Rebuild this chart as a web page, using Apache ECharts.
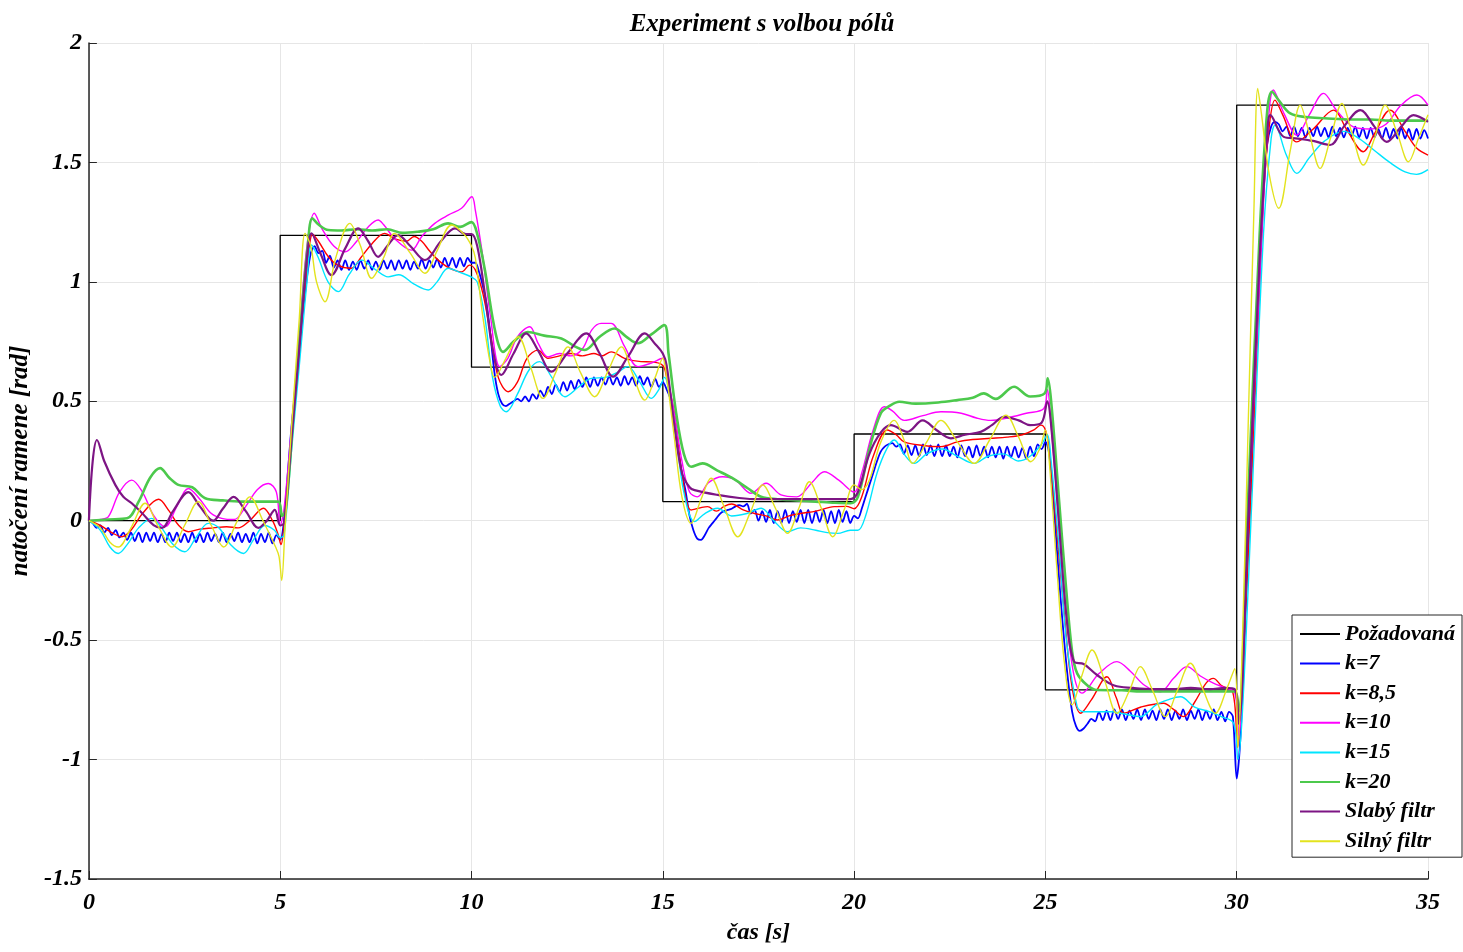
<!DOCTYPE html>
<html>
<head>
<meta charset="utf-8">
<script src="https://cdn.jsdelivr.net/npm/echarts@6/dist/echarts.min.js"></script>
<style>
html,body{margin:0;padding:0;background:#fff;}
#chart{width:1463px;height:952px;}
</style>
</head>
<body>
<div id="chart"></div>
<script>
// ---- data ----
const seriesNames = ['Požadovaná','k=7','k=8,5','k=10','k=15','k=20','Slabý filtr','Silný filtr'];
const xTicks = [0,5,10,15,20,25,30,35];

// setpoint (reference) levels, held from each time until the next
const refTimes  = [0, 5, 10, 15, 20, 25, 30, 35];
const refLevels = [0, 1.195, 0.643, 0.08, 0.363, -0.708, 1.74, 1.74];

// k=7 sampled every 0.1 s (rows = 1 s)
const k7Step = 0.1;
const k7Vals = [
0,-0.01,-0.03,-0.02,-0.05,-0.03,-0.06,-0.04,-0.07,-0.05,
-0.08,-0.05,-0.085,-0.05,-0.09,-0.05,-0.085,-0.05,-0.09,-0.055,
-0.09,-0.05,-0.085,-0.05,-0.09,-0.055,-0.09,-0.05,-0.09,-0.055,
-0.09,-0.05,-0.085,-0.055,-0.09,-0.05,-0.09,-0.055,-0.085,-0.05,
-0.09,-0.055,-0.09,-0.05,-0.095,-0.055,-0.09,-0.05,-0.095,-0.06,
-0.08,0.0,0.2,0.4,0.55,0.72,0.88,1.02,1.12,1.15,
1.12,1.13,1.08,1.11,1.06,1.09,1.05,1.09,1.05,1.085,
1.05,1.09,1.055,1.09,1.05,1.085,1.05,1.09,1.055,1.09,
1.05,1.09,1.055,1.09,1.05,1.085,1.055,1.095,1.055,1.09,
1.06,1.095,1.06,1.1,1.065,1.1,1.06,1.1,1.065,1.1,
1.08,1.08,1.04,0.98,0.9,0.77,0.62,0.53,0.49,0.48,
0.49,0.5,0.51,0.5,0.52,0.5,0.53,0.51,0.545,0.52,
0.56,0.53,0.57,0.54,0.58,0.545,0.585,0.55,0.59,0.56,
0.6,0.56,0.6,0.565,0.6,0.57,0.605,0.57,0.6,0.565,
0.605,0.57,0.6,0.565,0.605,0.57,0.6,0.56,0.595,0.56,
0.58,0.55,0.51,0.4,0.3,0.2,0.12,0.02,-0.04,-0.075,
-0.08,-0.06,-0.03,-0.01,0.01,0.03,0.04,0.045,0.05,0.06,
0.065,0.06,0.07,0.03,0.045,0.0,0.04,-0.005,0.045,-0.01,
0.04,-0.01,0.045,-0.01,0.04,-0.005,0.045,-0.01,0.045,-0.01,
0.04,-0.005,0.045,-0.01,0.04,-0.01,0.045,-0.005,0.04,-0.01,
0.02,0.01,0.05,0.1,0.15,0.2,0.25,0.29,0.31,0.32,
0.325,0.31,0.32,0.28,0.315,0.275,0.315,0.27,0.32,0.275,
0.315,0.27,0.32,0.27,0.315,0.27,0.31,0.265,0.315,0.27,
0.31,0.265,0.315,0.27,0.31,0.265,0.31,0.265,0.31,0.26,
0.31,0.265,0.31,0.265,0.305,0.26,0.31,0.27,0.32,0.3,
0.33,0.28,0.1,-0.12,-0.33,-0.52,-0.68,-0.8,-0.86,-0.88,
-0.87,-0.85,-0.83,-0.84,-0.8,-0.835,-0.795,-0.835,-0.79,-0.83,
-0.79,-0.835,-0.795,-0.83,-0.79,-0.835,-0.79,-0.83,-0.795,-0.835,
-0.79,-0.83,-0.79,-0.835,-0.795,-0.83,-0.79,-0.835,-0.795,-0.83,
-0.79,-0.835,-0.795,-0.83,-0.79,-0.835,-0.8,-0.84,-0.8,-0.82,
-1.08,-0.9,-0.5,-0.1,0.3,0.7,1.1,1.4,1.58,1.65,
1.67,1.66,1.63,1.65,1.61,1.65,1.61,1.645,1.605,1.645,
1.61,1.65,1.61,1.645,1.605,1.65,1.61,1.645,1.605,1.645,
1.61,1.65,1.605,1.645,1.6,1.645,1.605,1.64,1.6,1.645,
1.6,1.64,1.6,1.645,1.6,1.64,1.595,1.64,1.6,1.635,
1.6
];

// [time s, angle rad]
const k85 = [[0,0],[0.3,-0.02],[0.6,-0.05],[0.86,-0.067],[1.1,-0.04],[1.4,0.03],[1.82,0.09],[2.1,0.04],[2.35,-0.02],[2.6,-0.046],[2.9,-0.035],[3.25,-0.03],[3.6,-0.025],[3.9,-0.03],[4.2,0.0],[4.56,0.052],[4.8,0.0],[4.95,-0.06],[5.02,-0.1],[5.1,-0.02],[5.3,0.35],[5.5,0.72],[5.7,1.05],[5.85,1.2],[6.0,1.17],[6.26,1.105],[6.5,1.07],[6.86,1.057],[7.1,1.1],[7.4,1.16],[7.73,1.203],[8.0,1.18],[8.3,1.17],[8.5,1.19],[8.7,1.17],[8.9,1.13],[9.13,1.091],[9.4,1.06],[9.74,1.042],[9.95,1.07],[10.1,1.05],[10.3,0.95],[10.5,0.78],[10.7,0.6],[10.96,0.54],[11.2,0.58],[11.45,0.68],[11.74,0.714],[12.0,0.68],[12.3,0.69],[12.6,0.7],[12.9,0.69],[13.2,0.7],[13.4,0.69],[13.65,0.707],[14.0,0.68],[14.43,0.666],[14.7,0.665],[15.0,0.65],[15.1,0.6],[15.3,0.45],[15.5,0.2],[15.74,0.045],[16.0,0.055],[16.17,0.059],[16.4,0.04],[16.6,0.06],[16.8,0.07],[17.1,0.045],[17.4,0.03],[17.7,0.02],[18.0,0.003],[18.3,0.02],[18.6,0.03],[19.0,0.04],[19.48,0.059],[19.8,0.06],[20.0,0.05],[20.2,0.1],[20.5,0.27],[20.87,0.38],[21.1,0.36],[21.31,0.33],[21.8,0.315],[22.27,0.31],[22.7,0.33],[23.1,0.34],[23.57,0.345],[24.0,0.35],[24.4,0.36],[24.7,0.38],[24.88,0.40],[25.0,0.38],[25.1,0.3],[25.3,-0.05],[25.5,-0.4],[25.7,-0.7],[25.92,-0.806],[26.2,-0.75],[26.61,-0.653],[26.85,-0.74],[27.05,-0.806],[27.5,-0.78],[28.09,-0.764],[28.35,-0.79],[28.61,-0.82],[28.9,-0.76],[29.2,-0.68],[29.39,-0.66],[29.6,-0.69],[29.9,-0.72],[30.02,-0.95],[30.1,-0.8],[30.4,0.2],[30.7,1.35],[30.85,1.65],[31.0,1.761],[31.2,1.7],[31.57,1.586],[32.0,1.64],[32.53,1.719],[32.9,1.63],[33.31,1.545],[33.6,1.62],[34.01,1.719],[34.4,1.63],[34.7,1.56],[35,1.531]];

const k10 = [[0,0],[0.3,0.005],[0.51,0.017],[0.8,0.12],[1.12,0.17],[1.4,0.12],[1.7,0.02],[1.99,-0.025],[2.3,0.06],[2.6,0.135],[2.9,0.09],[3.2,0.03],[3.47,0.01],[3.8,0.005],[4.1,0.06],[4.4,0.13],[4.69,0.156],[4.9,0.12],[5.0,-0.02],[5.1,0.05],[5.3,0.4],[5.5,0.78],[5.7,1.15],[5.89,1.287],[6.1,1.22],[6.4,1.15],[6.7,1.126],[7.0,1.17],[7.3,1.23],[7.56,1.259],[7.7,1.24],[8.0,1.18],[8.43,1.133],[8.7,1.19],[9.04,1.245],[9.4,1.28],[9.74,1.308],[10.01,1.356],[10.1,1.3],[10.3,1.1],[10.5,0.85],[10.74,0.645],[10.95,0.68],[11.2,0.77],[11.52,0.812],[11.75,0.74],[12.0,0.686],[12.3,0.7],[12.6,0.69],[12.9,0.72],[13.15,0.8],[13.39,0.826],[13.65,0.826],[14.0,0.73],[14.35,0.645],[14.7,0.66],[15.0,0.68],[15.1,0.62],[15.3,0.45],[15.5,0.25],[15.7,0.12],[15.9,0.1],[16.2,0.16],[16.56,0.184],[16.9,0.17],[17.31,0.115],[17.7,0.157],[18.09,0.108],[18.5,0.1],[18.9,0.16],[19.22,0.205],[19.6,0.17],[20.0,0.12],[20.2,0.2],[20.5,0.38],[20.79,0.477],[21.0,0.46],[21.31,0.42],[21.8,0.44],[22.27,0.456],[22.8,0.45],[23.2,0.43],[23.57,0.42],[24.0,0.43],[24.5,0.45],[24.96,0.47],[25.05,0.55],[25.15,0.4],[25.35,0.0],[25.55,-0.4],[25.75,-0.65],[25.96,-0.722],[26.4,-0.64],[26.87,-0.59],[27.22,-0.63],[27.6,-0.69],[28.0,-0.716],[28.35,-0.66],[28.7,-0.611],[29.05,-0.65],[29.39,-0.68],[29.7,-0.7],[29.95,-0.72],[30.05,-0.9],[30.3,0.0],[30.6,1.0],[30.8,1.6],[30.96,1.803],[31.25,1.7],[31.57,1.614],[31.9,1.7],[32.27,1.789],[32.6,1.72],[33.05,1.649],[33.5,1.64],[33.9,1.66],[34.3,1.74],[34.71,1.782],[35,1.74]];

const k15 = [[0,0],[0.3,-0.04],[0.55,-0.11],[0.77,-0.137],[1.0,-0.1],[1.3,-0.03],[1.64,0.01],[1.9,-0.03],[2.2,-0.1],[2.51,-0.13],[2.8,-0.07],[3.12,-0.011],[3.4,-0.03],[3.7,-0.1],[4.04,-0.137],[4.3,-0.08],[4.6,-0.02],[4.85,-0.04],[5.0,-0.07],[5.1,-0.06],[5.3,0.3],[5.5,0.65],[5.7,1.0],[5.82,1.154],[6.0,1.1],[6.25,1.0],[6.52,0.959],[6.8,1.03],[7.13,1.091],[7.5,1.05],[7.82,1.021],[8.1,1.03],[8.5,0.99],[8.87,0.966],[9.1,1.0],[9.39,1.057],[9.7,1.04],[10.0,1.02],[10.15,1.0],[10.35,0.85],[10.55,0.6],[10.75,0.48],[10.91,0.456],[11.2,0.53],[11.5,0.63],[11.78,0.666],[12.1,0.6],[12.44,0.519],[12.8,0.56],[13.13,0.596],[13.5,0.6],[13.8,0.62],[14.09,0.645],[14.4,0.58],[14.7,0.512],[14.9,0.55],[15.05,0.6],[15.15,0.55],[15.35,0.35],[15.55,0.12],[15.83,-0.004],[16.1,0.03],[16.43,0.052],[16.8,0.02],[17.2,0.03],[17.57,0.052],[17.9,0.0],[18.26,-0.046],[18.6,-0.03],[19.0,-0.04],[19.3,-0.05],[19.57,-0.053],[19.9,-0.04],[20.1,-0.04],[20.3,0.02],[20.6,0.2],[20.85,0.3],[21.05,0.338],[21.3,0.28],[21.57,0.24],[21.9,0.28],[22.3,0.3],[22.7,0.27],[23.14,0.24],[23.5,0.27],[23.9,0.28],[24.3,0.25],[24.6,0.27],[24.9,0.32],[25.05,0.36],[25.15,0.25],[25.35,-0.1],[25.55,-0.5],[25.83,-0.778],[26.0,-0.8],[26.3,-0.8],[26.7,-0.8],[27.1,-0.81],[27.48,-0.82],[27.9,-0.77],[28.2,-0.75],[28.53,-0.737],[28.9,-0.78],[29.3,-0.8],[29.6,-0.82],[29.92,-0.848],[30.03,-1.0],[30.15,-0.8],[30.4,0.1],[30.7,1.2],[30.9,1.6],[31.0,1.656],[31.3,1.53],[31.57,1.454],[31.9,1.52],[32.3,1.59],[32.8,1.63],[33.2,1.6],[33.6,1.55],[34.0,1.5],[34.4,1.46],[34.7,1.45],[35,1.47]];

const k20 = [[0,0],[0.5,0.005],[1.0,0.01],[1.3,0.08],[1.6,0.18],[1.86,0.22],[2.1,0.18],[2.34,0.15],[2.7,0.14],[3.04,0.094],[3.5,0.085],[4.0,0.08],[4.5,0.08],[4.95,0.08],[5.05,0.02],[5.15,0.05],[5.35,0.45],[5.55,0.85],[5.72,1.15],[5.84,1.266],[6.0,1.24],[6.26,1.217],[6.6,1.215],[7.0,1.22],[7.4,1.215],[7.8,1.22],[8.2,1.205],[8.6,1.21],[9.0,1.22],[9.39,1.245],[9.7,1.23],[10.0,1.25],[10.15,1.2],[10.35,1.05],[10.55,0.85],[10.7,0.74],[10.82,0.707],[11.1,0.75],[11.47,0.79],[11.9,0.775],[12.35,0.763],[12.7,0.73],[12.96,0.715],[13.35,0.77],[13.74,0.805],[14.05,0.77],[14.35,0.743],[14.7,0.78],[15.04,0.819],[15.15,0.7],[15.35,0.45],[15.55,0.28],[15.74,0.226],[16.04,0.24],[16.43,0.21],[16.8,0.18],[17.22,0.136],[17.57,0.10],[18.0,0.09],[18.5,0.085],[19.0,0.08],[19.5,0.075],[19.91,0.073],[20.1,0.1],[20.4,0.3],[20.7,0.45],[20.96,0.484],[21.18,0.498],[21.6,0.49],[22.2,0.495],[22.7,0.505],[23.1,0.515],[23.39,0.533],[23.7,0.51],[24.18,0.561],[24.6,0.52],[24.98,0.533],[25.06,0.596],[25.15,0.5],[25.35,0.1],[25.55,-0.3],[25.7,-0.55],[25.83,-0.639],[26.1,-0.69],[26.35,-0.709],[27.0,-0.71],[27.5,-0.715],[28.0,-0.715],[28.5,-0.715],[29.0,-0.715],[29.5,-0.715],[29.95,-0.715],[30.05,-0.8],[30.3,0.1],[30.6,1.2],[30.8,1.72],[30.92,1.796],[31.1,1.76],[31.4,1.705],[31.8,1.69],[32.3,1.685],[33.0,1.68],[33.5,1.68],[34.0,1.675],[34.5,1.675],[35,1.675]];

const weakFilter = [[0,0],[0.1,0.25],[0.21,0.338],[0.4,0.25],[0.69,0.15],[0.9,0.1],[1.12,0.073],[1.4,0.03],[1.69,-0.018],[1.91,-0.03],[2.2,0.04],[2.6,0.12],[2.9,0.06],[3.25,0.0],[3.5,0.05],[3.78,0.10],[4.1,0.04],[4.43,-0.03],[4.65,0.0],[4.86,0.045],[5.0,-0.02],[5.1,-0.01],[5.3,0.35],[5.5,0.72],[5.7,1.1],[5.82,1.203],[6.05,1.12],[6.34,1.028],[6.7,1.14],[7.04,1.224],[7.3,1.17],[7.56,1.105],[7.8,1.15],[8.08,1.196],[8.4,1.15],[8.78,1.091],[9.2,1.17],[9.57,1.224],[9.85,1.2],[10.0,1.2],[10.15,1.15],[10.35,0.95],[10.55,0.72],[10.78,0.61],[11.1,0.7],[11.43,0.784],[11.75,0.71],[12.09,0.624],[12.5,0.7],[13.0,0.784],[13.35,0.7],[13.7,0.603],[14.1,0.69],[14.53,0.784],[14.8,0.74],[15.0,0.7],[15.1,0.65],[15.3,0.4],[15.5,0.2],[15.7,0.14],[15.83,0.128],[16.43,0.108],[17.0,0.095],[17.5,0.09],[18.0,0.09],[18.5,0.09],[19.0,0.09],[19.5,0.09],[19.9,0.09],[20.1,0.12],[20.4,0.28],[20.7,0.37],[20.96,0.40],[21.39,0.372],[21.79,0.42],[22.15,0.38],[22.53,0.345],[22.9,0.36],[23.31,0.372],[23.6,0.4],[23.92,0.435],[24.3,0.42],[24.6,0.4],[24.9,0.41],[25.05,0.5],[25.15,0.4],[25.35,0.0],[25.55,-0.4],[25.75,-0.59],[26.0,-0.6],[26.35,-0.646],[26.8,-0.69],[27.3,-0.7],[27.8,-0.705],[28.3,-0.705],[28.8,-0.7],[29.3,-0.705],[29.7,-0.7],[29.95,-0.705],[30.05,-0.85],[30.3,0.0],[30.6,1.1],[30.8,1.62],[30.88,1.698],[31.23,1.607],[31.6,1.6],[32.0,1.59],[32.44,1.573],[32.8,1.65],[33.23,1.719],[33.6,1.65],[33.92,1.586],[34.3,1.65],[34.62,1.698],[35,1.67]];

const strongFilter = [[0,0],[0.3,-0.03],[0.55,-0.09],[0.77,-0.11],[1.1,-0.03],[1.47,0.073],[1.8,-0.02],[2.17,-0.11],[2.5,-0.02],[2.86,0.08],[3.2,-0.02],[3.52,-0.11],[3.85,-0.01],[4.21,0.10],[4.55,0.0],[4.88,-0.11],[4.97,-0.15],[5.04,-0.25],[5.12,-0.05],[5.3,0.4],[5.5,0.85],[5.65,1.203],[5.8,1.15],[5.95,1.0],[6.17,0.917],[6.45,1.1],[6.82,1.245],[7.1,1.15],[7.39,1.015],[7.7,1.1],[7.99,1.203],[8.4,1.12],[8.78,1.036],[9.1,1.13],[9.48,1.238],[9.8,1.2],[10.0,1.15],[10.1,1.1],[10.3,0.85],[10.5,0.65],[10.6,0.6],[10.9,0.68],[11.22,0.77],[11.55,0.64],[11.87,0.512],[12.2,0.62],[12.52,0.728],[12.85,0.62],[13.22,0.519],[13.55,0.62],[13.92,0.728],[14.2,0.62],[14.53,0.505],[14.8,0.6],[15.0,0.68],[15.1,0.6],[15.3,0.35],[15.5,0.1],[15.74,-0.011],[16.0,0.09],[16.26,0.178],[16.6,0.06],[16.96,-0.067],[17.3,0.04],[17.61,0.15],[17.95,0.05],[18.26,-0.053],[18.55,0.05],[18.83,0.163],[19.15,0.05],[19.44,-0.067],[19.75,0.05],[20.0,0.15],[20.2,0.13],[20.4,0.17],[20.7,0.33],[21.05,0.42],[21.3,0.34],[21.53,0.24],[21.9,0.33],[22.27,0.42],[22.7,0.33],[23.14,0.24],[23.55,0.34],[23.97,0.442],[24.3,0.35],[24.62,0.247],[24.85,0.3],[25.0,0.38],[25.1,0.25],[25.3,-0.2],[25.5,-0.6],[25.7,-0.771],[25.95,-0.65],[26.22,-0.541],[26.55,-0.67],[26.87,-0.806],[27.2,-0.71],[27.48,-0.611],[27.8,-0.71],[28.13,-0.82],[28.45,-0.71],[28.79,-0.597],[29.1,-0.7],[29.44,-0.806],[29.75,-0.7],[29.95,-0.62],[30.03,-0.95],[30.15,-0.5],[30.3,0.4],[30.45,1.3],[30.55,1.81],[30.65,1.7],[30.85,1.45],[31.1,1.308],[31.4,1.55],[31.66,1.74],[31.9,1.62],[32.18,1.475],[32.45,1.6],[32.75,1.747],[33.0,1.63],[33.31,1.489],[33.6,1.6],[33.88,1.74],[34.2,1.62],[34.49,1.503],[34.75,1.6],[35,1.7]];

// ---- build ----
const refData = refTimes.map((t, i) => [t, refLevels[i]]);
const k7Data = k7Vals.map((v, i) => [+(i * k7Step).toFixed(2), v]);

const FONT = 'Liberation Serif';
const txt = (size) => ({fontFamily: FONT, fontStyle: 'italic', fontWeight: 'bold', fontSize: size, color: '#000'});

function line(name, data, color, width, extra) {
  return Object.assign({
    name, type: 'line', data, showSymbol: false, symbol: 'none',
    lineStyle: {color, width}, itemStyle: {color}, animation: false, smooth: 0.35
  }, extra || {});
}

const chart = echarts.init(document.getElementById('chart'), null, {renderer: 'canvas'});
chart.setOption({
  backgroundColor: '#fff',
  animation: false,
  title: {
    text: 'Experiment s volbou pólů',
    left: 757, top: 7, textAlign: 'center',
    textStyle: txt(25)
  },
  grid: {left: 87, right: 35, top: 43, bottom: 73, containLabel: false},
  xAxis: {
    type: 'value', min: 0, max: 35, interval: 5,
    name: 'čas [s]', nameLocation: 'middle', nameGap: 42, nameTextStyle: txt(24),
    axisLine: {show: true, onZero: false, lineStyle: {color: '#262626', width: 1.5}},
    axisTick: {show: true, inside: true, length: 8, lineStyle: {color: '#262626'}},
    axisLabel: Object.assign(txt(24), {margin: 12, formatter: v => xTicks.includes(v) ? String(v) : ''}),
    splitLine: {show: true, lineStyle: {color: '#e6e6e6', width: 1}}
  },
  yAxis: {
    type: 'value', min: -1.5, max: 2, interval: 0.5,
    name: 'natočení ramene [rad]', nameLocation: 'middle', nameGap: 53, nameTextStyle: txt(25),
    axisLine: {show: true, onZero: false, lineStyle: {color: '#262626', width: 1.5}},
    axisTick: {show: true, inside: true, length: 8, lineStyle: {color: '#262626'}},
    axisLabel: Object.assign(txt(24), {margin: 7}),
    splitLine: {show: true, lineStyle: {color: '#e6e6e6', width: 1}}
  },
  legend: {
    data: seriesNames,
    orient: 'vertical', left: 1292, top: 615,
    padding: [8, 7, 5, 8], itemGap: 7.6,
    itemWidth: 40, itemHeight: 2, icon: 'rect',
    backgroundColor: '#fff', borderColor: '#262626', borderWidth: 1, borderRadius: 0,
    textStyle: Object.assign(txt(22), {lineHeight: 22}),
    selectedMode: false
  },
  series: [
    line(seriesNames[0], refData, '#000000', 1.3, {step: 'end', smooth: false}),
    line(seriesNames[1], k7Data, '#0000ff', 1.8, {smooth: 0.3}),
    line(seriesNames[2], k85, '#ff0000', 1.4),
    line(seriesNames[3], k10, '#ff00ff', 1.4),
    line(seriesNames[4], k15, '#00e5ff', 1.4),
    line(seriesNames[5], k20, '#4cc94c', 2.6),
    line(seriesNames[6], weakFilter, '#7d1584', 2.2),
    line(seriesNames[7], strongFilter, '#e3e31e', 1.4)
  ]
});
</script>
</body>
</html>
